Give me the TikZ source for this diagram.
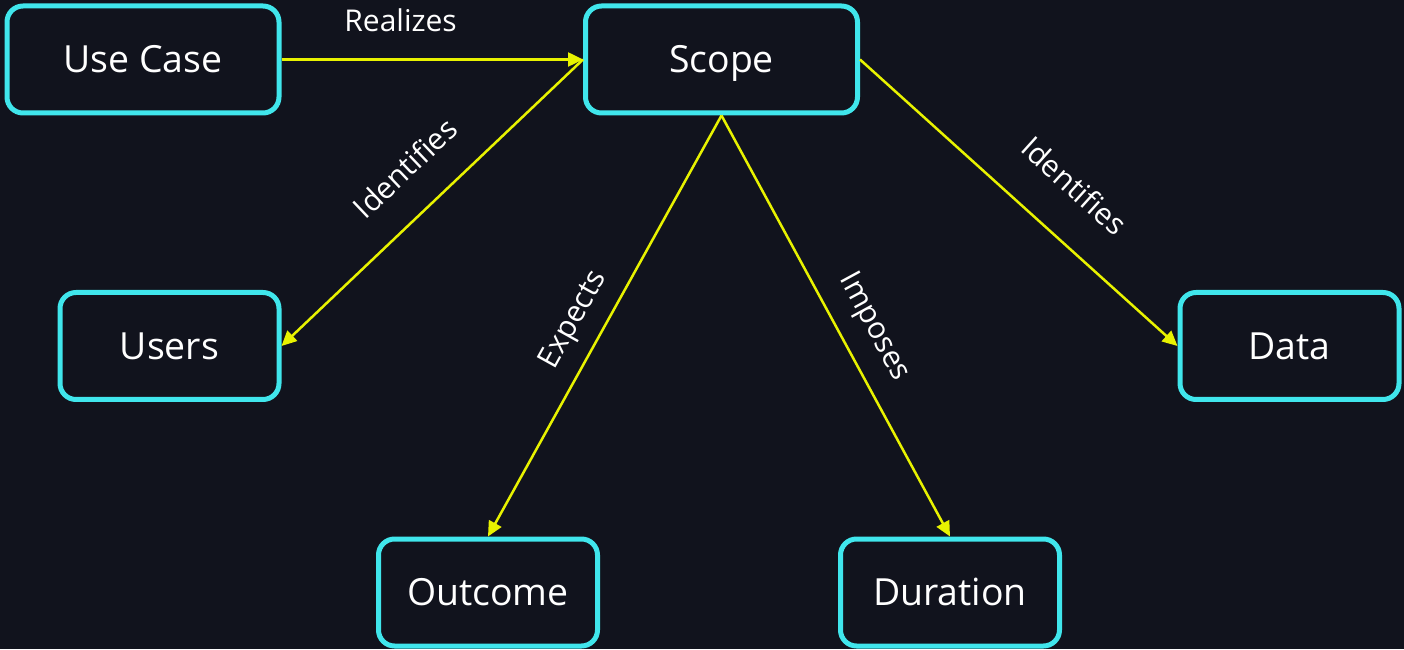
\documentclass[tikz,border=0pt]{standalone}
\usepackage{fontspec}
\setmainfont{Open Sans}
\usetikzlibrary{arrows.meta}
\definecolor{bgc}{HTML}{11131D}
\definecolor{boxc}{HTML}{40E6EC}
\definecolor{edgec}{HTML}{E8F200}
\tikzset{
  box/.style={draw=boxc, line width=2.5pt, fill=bgc, rounded corners=8pt,
    minimum height=53.5pt, text=white, font=\fontsize{18.7}{22}\selectfont,
    text height=13.35pt, text depth=0pt},
  bigbox/.style={box, minimum width=136pt},
  smallbox/.style={box, minimum width=109.5pt},
  conn/.style={draw=edgec, line width=1.25pt, -{Triangle[length=7.5pt,width=7pt]}},
  lbl/.style={text=white, font=\fontsize{15}{18}\selectfont, sloped, above, inner xsep=0pt}
}
\begin{document}
\begin{tikzpicture}[x=0.5pt,y=0.5pt]
\fill[bgc] (0,0) rectangle (1404,649);
\useasboundingbox (0,0) rectangle (1404,649);
\node[bigbox] (usecase) at (143,589.5) {Use Case};
\node[bigbox] (scope) at (721.5,589.5) {Scope};
\node[smallbox] (users) at (169.5,303) {Users};
\node[smallbox] (data) at (1289.5,303) {Data};
\node[smallbox] (outcome) at (488,56.5) {Outcome};
\node[smallbox] (duration) at (950,56.5) {Duration};
\draw[conn] (usecase.east) -- node[lbl, pos=0.395, inner ysep=13.2pt] {Realizes} (scope.west);
\draw[conn] (scope.west) -- node[lbl, pos=0.49, inner ysep=15.6pt] {Identifies} (users.east);
\draw[conn] (scope.south) -- node[lbl, pos=0.52, inner ysep=6.9pt] {Expects} (outcome.north);
\draw[conn] (scope.south) -- node[lbl, pos=0.54, inner ysep=8.6pt] {Imposes} (duration.north);
\draw[conn] (scope.east) -- node[lbl, pos=0.57, inner ysep=18.6pt] {Identifies} (data.west);
\end{tikzpicture}
\end{document}
